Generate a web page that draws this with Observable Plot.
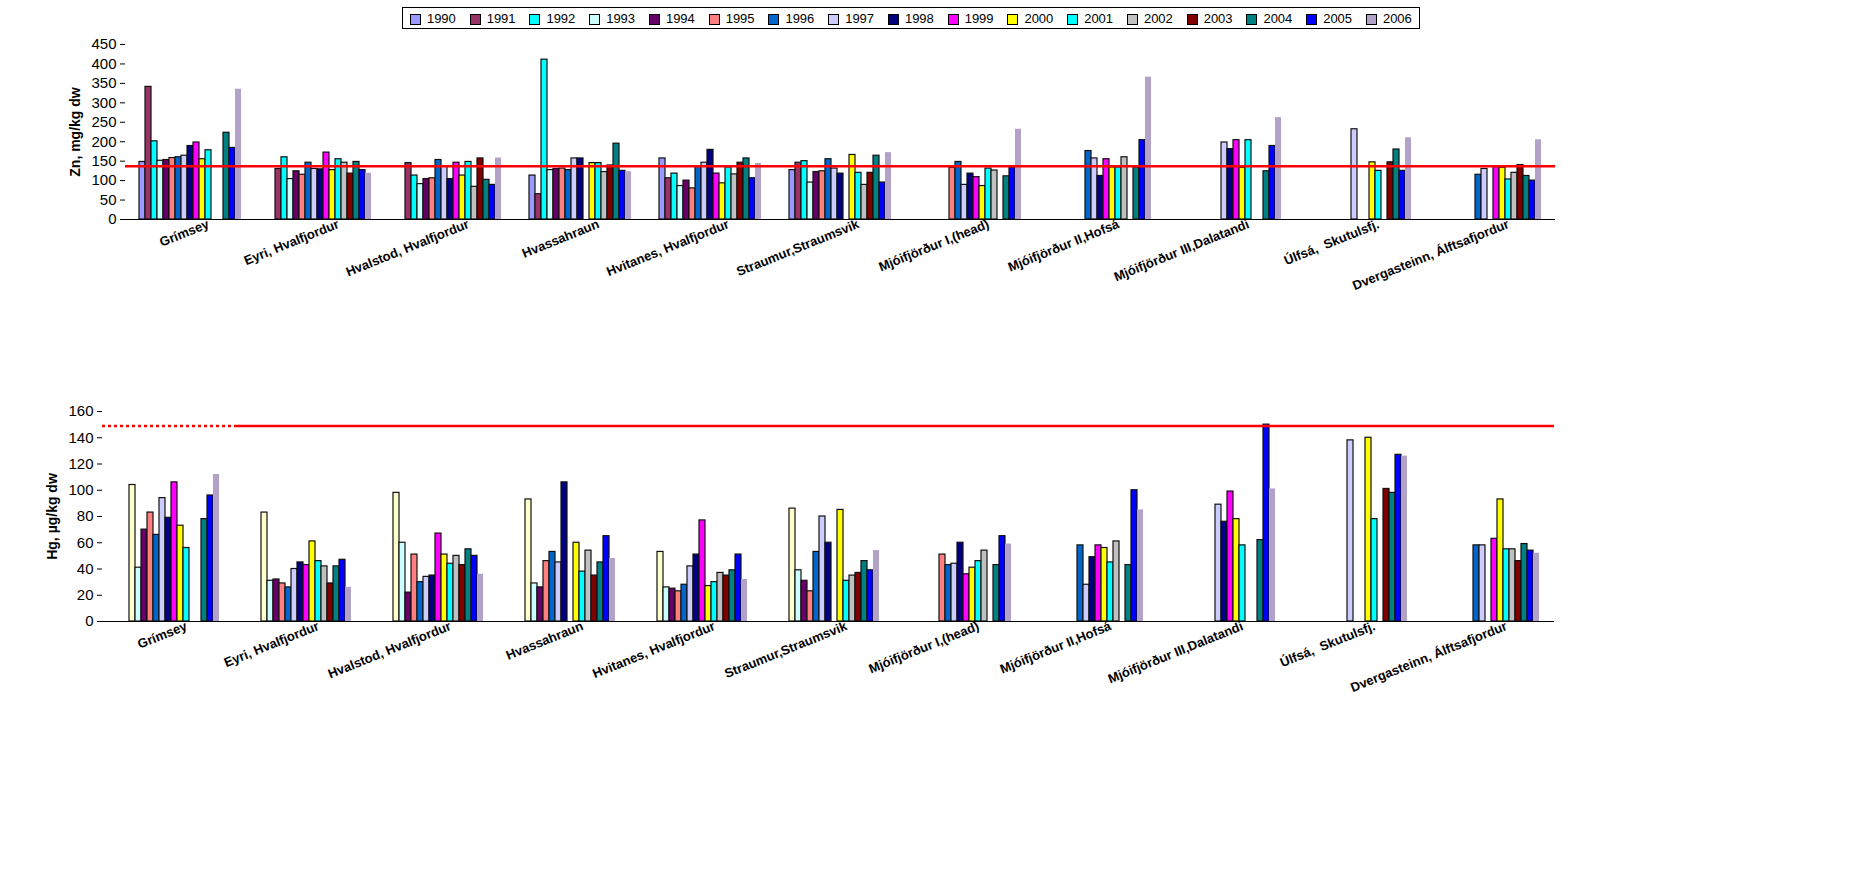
<!DOCTYPE html>
<html>
<head>
<meta charset="utf-8">
<script src="https://cdn.jsdelivr.net/npm/d3@7"></script>
<script src="https://cdn.jsdelivr.net/npm/@observablehq/plot@0.6"></script>
<style>
body { margin: 0; background: #fff; font-family: Arial, "Liberation Sans", sans-serif; }
#legend { position: absolute; left: 402px; top: 7px; width: 1016px; height: 20px; border: 1px solid #000; display: flex; justify-content: space-around; align-items: center; font-size: 13px; }
#legend span.sw { display: inline-block; width: 9px; height: 9px; border: 1px solid #000; margin-right: 6px; vertical-align: middle; }
#zn { position: absolute; left: 0; top: 35px; }
#hg { position: absolute; left: 0; top: 378px; }
g[aria-label="fx-axis tick label"] text { font-weight: bold; }
g[aria-label="y-axis label"] text { font-weight: bold; font-size: 14px; }
g[aria-label="y-axis tick label"] text { font-size: 15px; }
</style>
</head>
<body>
<div id="legend"></div>
<div id="zn"></div>
<div id="hg"></div>
<script>
const sites = ["Grímsey", "Eyri, Hvalfjordur", "Hvalstod, Hvalfjordur", "Hvassahraun", "Hvitanes, Hvalfjordur",
  "Straumur,Straumsvik", "Mjóifjörður I,(head)", "Mjóifjörður II,Hofsá", "Mjóifjörður III,Dalatandi",
  "Úlfsá,  Skutulsfj.", "Dvergasteinn, Álftsafjordur"];
const years = ["1990","1991","1992","1993","1994","1995","1996","1997","1998","1999","2000","2001","2002","2003","2004","2005","2006"];
const znColors = ["#9999FF","#993366","#00FFFF","#CCFFFF","#660066","#FF8080","#0066CC","#CCCCFF","#000080","#FF00FF","#FFFF00","#00FFFF","#C0C0C0","#800000","#008080","#0000FF","#B3A2C7"];
const hgColors = ["#9999FF","#993366","#FFFFCC","#CCFFFF","#660066","#FF8080","#0066CC","#CCCCFF","#000080","#FF00FF","#FFFF00","#00FFFF","#C0C0C0","#800000","#008080","#0000FF","#B3A2C7"];

// Zn, mg/kg dw (rows = sites, columns = 1990..2006)
const zn = [
  [148,341,201,151,153,158,160,164,189,198,155,178,null,null,223,184,335],
  [null,130,160,104,124,115,146,130,129,172,127,155,146,118,148,127,119],
  [null,145,113,91,104,106,153,137,104,146,113,148,84,157,102,89,158],
  [113,65,411,127,130,131,127,157,157,null,145,145,122,139,195,125,123],
  [157,106,118,86,100,80,135,146,179,118,93,134,116,146,157,106,144],
  [127,146,150,95,122,124,155,131,118,null,166,120,89,120,164,95,172],
  [null,null,null,null,null,133,148,89,118,109,86,131,126,null,111,134,232],
  [null,null,null,null,null,null,176,157,112,155,134,134,160,null,134,204,366],
  [null,null,null,null,null,null,null,198,181,204,133,204,null,null,124,189,262],
  [null,null,null,null,null,null,null,232,null,null,147,125,null,147,180,125,210],
  [null,null,null,null,null,null,115,130,null,135,133,103,120,140,112,100,205]
];
// Hg, µg/kg dw
const hg = [
  [null,null,104,41,70,83,66,94,79,106,73,56,null,null,78,96,112],
  [null,null,83,31,32,29,26,40,45,43,61,46,42,29,42,47,26],
  [null,null,98,60,22,51,30,34,35,67,51,44,50,43,55,50,36],
  [null,null,93,29,26,46,53,45,106,null,60,38,54,35,45,65,48],
  [null,null,53,26,25,23,28,42,51,77,27,30,37,35,39,51,32],
  [null,null,86,39,31,23,53,80,60,null,85,31,35,37,46,39,54],
  [null,null,null,null,null,51,43,44,60,36,41,46,54,null,43,65,59],
  [null,null,null,null,null,null,58,28,49,58,56,45,61,null,43,100,85],
  [null,null,null,null,null,null,null,89,76,99,78,58,null,null,62,150,101],
  [null,null,null,null,null,null,null,138,null,null,140,78,null,101,98,127,126],
  [null,null,null,null,null,null,58,58,null,63,93,55,55,46,59,54,52]
];
const znLimit = 137, hgLimit = 149;

function rows(table) {
  const out = [];
  table.forEach((r, i) => r.forEach((v, j) => { if (v != null) out.push({site: sites[i], year: years[j], value: v}); }));
  return out;
}

d3.select("#legend").selectAll("div").data(years).join("div")
  .html((y, i) => `<span class="sw" style="background:${znColors[i]}"></span>${y}`);

function chart({data, colors, yDomain, yTicks, yLabel, limit, marginLeft, marginTop, plotH, dashFirst}) {
  const mb = 130;
  const lim = sites.map(s => ({site: s, v: limit}));
  return Plot.plot({
    width: 1867, height: marginTop + plotH + mb,
    marginLeft, marginRight: 312, marginTop, marginBottom: mb,
    style: {fontFamily: "Arial, 'Liberation Sans', sans-serif", fontSize: "13px", color: "#000"},
    fx: {domain: sites, padding: 0, label: null, axis: null},
    x: {domain: years, axis: null, paddingInner: 0, paddingOuter: 1.2},
    y: {domain: yDomain, axis: null},
    color: {domain: years, range: colors},
    marks: [
      Plot.barY(data.filter(d => d.year !== "2006"), {fx: "site", x: "year", y: "value", fill: "year", stroke: "#111", strokeWidth: 1.2}),
      Plot.barY(data.filter(d => d.year === "2006"), {fx: "site", x: "year", y: "value", fill: "year"}),
      Plot.ruleY([0], {stroke: "#000"}),
      Plot.ruleY(lim.filter(d => !(dashFirst && d.site === sites[0])), {fx: "site", y: "v", stroke: "#f00", strokeWidth: 2.5}),
      dashFirst ? Plot.ruleY(lim.slice(0, 1), {fx: "site", y: "v", stroke: "#f00", strokeWidth: 2.5, strokeDasharray: "3,3"}) : null,
      Plot.axisFx({anchor: "bottom", label: null, tickRotate: -22, tickSize: 0, tickPadding: 4, dx: 18}),
      Plot.axisY({ticks: yTicks, tickSize: 5, label: yLabel, labelAnchor: "center", labelArrow: "none", labelOffset: 55}),
      Plot.ruleX([0], {frameAnchor: "left", stroke: "#000", strokeWidth: 2.5, facet: "exclude"})
    ]
  });
}

const znChart = chart({data: rows(zn), colors: znColors, yDomain: [0, 450], yTicks: d3.range(0, 451, 50),
  yLabel: "Zn, mg/kg dw", limit: znLimit, marginLeft: 125, marginTop: 9, plotH: 175, dashFirst: false});
const hgChart = chart({data: rows(hg), colors: hgColors, yDomain: [0, 160], yTicks: d3.range(0, 161, 20),
  yLabel: "Hg, µg/kg dw", limit: hgLimit, marginLeft: 100, marginTop: 33, plotH: 210, dashFirst: true});

d3.select("#zn").append(() => znChart);
d3.select("#hg").append(() => hgChart);
</script>
</body>
</html>
